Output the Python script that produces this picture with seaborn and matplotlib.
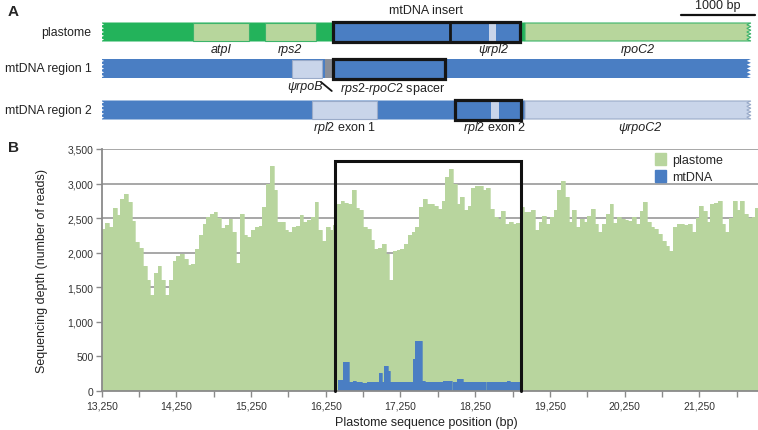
import numpy as np
import pandas as pd
import seaborn as sns
import matplotlib.pyplot as plt
from matplotlib.patches import Rectangle, Polygon, Patch
from matplotlib.ticker import FuncFormatter, MultipleLocator

sns.set_style("white")
plt.rcParams['font.family'] = ['Liberation Sans', 'DejaVu Sans']
plt.rcParams['mathtext.fontset'] = 'custom'
plt.rcParams['mathtext.it'] = 'Liberation Sans:italic'
plt.rcParams['mathtext.rm'] = 'Liberation Sans'

GREEN_FILL = '#b8d59e'
MT_BLUE = '#4a7ec3'
PT_GREEN = '#23b35b'
GENE_GREEN = '#b7d69c'
PALE_BLUE = '#c9d5ea'
SPACER_GREY = '#8a8e97'

# ---- panel B data: read depth in 50 bp windows ----
bin_width = 50
plastome_start = np.arange(13250, 22050, bin_width)
plastome_depth = [
    2340, 2425, 2370, 2640, 2540, 2780, 2850, 2730, 2460, 2150,
    2060, 1800, 1600, 1380, 1700, 1800, 1600, 1380, 1600, 1880,
    1950, 1980, 1910, 1820, 1840, 2050, 2250, 2420, 2510, 2560,
    2590, 2500, 2350, 2400, 2480, 2300, 1850, 2560, 2250, 2230,
    2320, 2370, 2380, 2660, 3000, 3260, 2900, 2450, 2440, 2320,
    2300, 2370, 2380, 2540, 2440, 2470, 2510, 2730, 2320, 2175,
    2370, 2330, 2400, 2700, 2740, 2720, 2700, 2900, 2650, 2610,
    2370, 2340, 2180, 2050, 2060, 2125, 1980, 1600, 2030, 2040,
    2050, 2125, 2250, 2300, 2370, 2660, 2780, 2700, 2700, 2680,
    2630, 2750, 3090, 3210, 2990, 2710, 2800, 2610, 2680, 2940,
    2970, 2960, 2900, 2940, 2630, 2510, 2490, 2600, 2420, 2440,
    2420, 2430, 2660, 2590, 2590, 2610, 2320, 2440, 2535, 2420,
    2510, 2610, 2900, 3040, 2800, 2450, 2610, 2370, 2480, 2440,
    2535, 2630, 2420, 2300, 2420, 2560, 2700, 2430, 2510, 2490,
    2470, 2460, 2510, 2420, 2600, 2730, 2440, 2370, 2340, 2270,
    2175, 2100, 2030, 2370, 2410, 2420, 2400, 2410, 2300, 2500,
    2680, 2600, 2440, 2700, 2720, 2740, 2420, 2300, 2500, 2750,
    2610, 2740, 2560, 2500, 2520, 2650,
]

mt_start = [16410, 16475, 16565, 16620, 16660, 16730, 16800, 16966, 16998, 17029,
            17087, 17109, 17243, 17288, 17421, 17448, 17533, 17578, 17690, 17823,
            17935, 17957, 18001, 18091, 18225, 18390, 18412, 18582, 18672, 18716]
mt_end = 18870
mt_depth = [160, 420, 130, 140, 130, 115, 125, 256, 130, 357,
            290, 125, 132, 120, 460, 725, 145, 130, 125, 140,
            0, 130, 165, 125, 128, 0, 130, 128, 135, 128]

insert_start, insert_end, insert_top = 16373, 18863, 3325

# ---- panel A features (bp) ----
track_y = {'plastome': 33, 'mtDNA region 1': 69.5, 'mtDNA region 2': 111}
track_h = 19
track_left, track_right = 13227, 21941

fig = plt.figure(figsize=(7.58, 4.31), dpi=100)
ax = fig.add_axes([101.7 / 758, 39.3 / 431, 656.3 / 758, 241.7 / 431])
ax_a = fig.add_axes([101.7 / 758, 1 - 135 / 431, 656.3 / 758, 135 / 431])

xmin, xmax = 13250, 22036

# ---------- panel B ----------
# step profiles: repeat the last value so the final window is closed
pt_df = pd.DataFrame({'pos': np.append(plastome_start, plastome_start[-1] + bin_width),
                      'depth': plastome_depth + plastome_depth[-1:]})
mt_df = pd.DataFrame({'pos': mt_start + [mt_end], 'depth': mt_depth + mt_depth[-1:]})

for df, col, z in [(pt_df, GREEN_FILL, 2), (mt_df, MT_BLUE, 3)]:
    ax.fill_between(df['pos'], 0, df['depth'], step='post', color=col, lw=0, zorder=z)
    sns.lineplot(data=df, x='pos', y='depth', drawstyle='steps-post', color=col,
                 lw=0.5, zorder=z, ax=ax)

ax.plot([insert_start, insert_start, insert_end, insert_end],
        [0, insert_top, insert_top, 0], color='#111111', lw=2.2, zorder=5,
        solid_joinstyle='miter', clip_on=False)

ax.set_xlim(xmin, xmax)
ax.set_ylim(0, 3500)
ax.yaxis.set_major_locator(MultipleLocator(500))
ax.yaxis.set_major_formatter(FuncFormatter(lambda v, p: f'{int(v):,}'))
ax.set_xticks(np.arange(13250, 22000, 1000))
ax.set_xticks(np.arange(13750, 22000, 1000), minor=True)
ax.xaxis.set_major_formatter(FuncFormatter(lambda v, p: f'{int(v):,}'))
ax.tick_params(axis='both', which='both', direction='out', length=4, width=1,
               color='#8a8a8a', labelsize=7.5, labelcolor='#333333')
ax.tick_params(axis='x', which='both', bottom=True, pad=3)
ax.tick_params(axis='y', left=True, pad=2)
ax.grid(axis='y', color='#a0a0a0', lw=1.3)
ax.set_axisbelow(True)
for s in ['top', 'right']:
    ax.spines[s].set_visible(False)
for s in ['left', 'bottom']:
    ax.spines[s].set_color('#8a8a8a')
    ax.spines[s].set_linewidth(1.3)
    ax.spines[s].set_zorder(4)
ax.set_ylabel('Sequencing depth (number of reads)', fontsize=9, color='#222222')
ax.set_xlabel('Plastome sequence position (bp)', fontsize=9, color='#222222')
ax.yaxis.set_label_coords(-0.082, 0.5)
ax.xaxis.set_label_coords(0.494, -0.105)

handles = [Patch(color=GREEN_FILL, label='plastome'), Patch(color=MT_BLUE, label='mtDNA')]
ax.legend(handles=handles, loc='upper left', bbox_to_anchor=(0.835, 1.005), frameon=False,
          fontsize=9, handlelength=0.9, handleheight=1.1, handletextpad=0.5,
          labelspacing=0.3, borderaxespad=0)

# ---------- panel A ----------
ax_a.set_xlim(xmin, xmax)
ax_a.set_ylim(135, 0)
ax_a.axis('off')


def jag_poly(x0, x1, yc, h, jag_left=False, jag_right=False, n=5, amp=55):
    top, bot = yc - h / 2, yc + h / 2
    pts = [(x0, top), (x1, top)]
    if jag_right:
        ys = np.linspace(top, bot, 2 * n + 1)
        for i, yv in enumerate(ys):
            pts.append((x1 - (amp if i % 2 else 0), yv))
    else:
        pts.append((x1, bot))
    pts.append((x0, bot))
    if jag_left:
        ys = np.linspace(bot, top, 2 * n + 1)
        for i, yv in enumerate(ys):
            pts.append((x0 + (amp if i % 2 else 0), yv))
    return pts


def box(x0, x1, row, fc, ec='none', lw=0.8, h=None, z=2):
    yc = track_y[row]
    hh = track_h if h is None else h
    ax_a.add_patch(Rectangle((x0, yc - hh / 2), x1 - x0, hh, facecolor=fc,
                             edgecolor=ec, lw=lw, zorder=z))


def outline(x0, x1, row, split=None):
    yc = track_y[row]
    ax_a.add_patch(Rectangle((x0, yc - track_h / 2 - 0.5), x1 - x0, track_h + 1, fill=False,
                             edgecolor='#151515', lw=2.3, zorder=6, joinstyle='miter'))
    if split is not None:
        ax_a.plot([split, split], [yc - track_h / 2, yc + track_h / 2], color='#151515',
                  lw=2, zorder=6)


# plastome row
ax_a.add_patch(Polygon(jag_poly(track_left, 18917, track_y['plastome'], track_h, jag_left=True),
                       facecolor=PT_GREEN, edgecolor='none', zorder=1))
box(14468, 15226, 'plastome', GENE_GREEN, '#3cb46a', h=track_h - 1)
box(15436, 16119, 'plastome', GENE_GREEN, '#3cb46a', h=track_h - 1)
box(16350, 18850, 'plastome', MT_BLUE)
box(18435, 18532, 'plastome', PALE_BLUE, z=3)
ax_a.add_patch(Polygon(jag_poly(18917, track_right, track_y['plastome'], track_h - 1, jag_right=True),
                       facecolor=GENE_GREEN, edgecolor='#3cb46a', lw=0.8, zorder=2))
outline(16350, 18846, 'plastome', split=17909)

# mtDNA region 1
ax_a.add_patch(Polygon(jag_poly(track_left, track_right, track_y['mtDNA region 1'], track_h,
                                jag_left=True, jag_right=True),
                       facecolor=MT_BLUE, edgecolor='none', zorder=1))
box(15793, 16195, 'mtDNA region 1', PALE_BLUE, '#9aabc9', h=track_h - 1)
box(16239, 16346, 'mtDNA region 1', SPACER_GREY)
outline(16346, 17842, 'mtDNA region 1')

# mtDNA region 2
ax_a.add_patch(Polygon(jag_poly(track_left, 18917, track_y['mtDNA region 2'], track_h, jag_left=True),
                       facecolor=MT_BLUE, edgecolor='none', zorder=1))
box(16061, 16931, 'mtDNA region 2', PALE_BLUE, '#9aabc9', h=track_h - 1)
box(18465, 18564, 'mtDNA region 2', PALE_BLUE, z=3)
ax_a.add_patch(Polygon(jag_poly(18917, track_right, track_y['mtDNA region 2'], track_h - 1, jag_right=True),
                       facecolor=PALE_BLUE, edgecolor='#9aabc9', lw=0.8, zorder=2))
outline(17983, 18867, 'mtDNA region 2')

# track names
for name, yc in track_y.items():
    ax_a.annotate(name, xy=(xmin, yc), xytext=(-7.5, 0), textcoords='offset points',
                  ha='right', va='center', fontsize=8.8, color='#222222', annotation_clip=False)

txt = dict(fontsize=9, color='#222222', ha='center', va='center')
ax_a.text(14847, 50, 'atpI', style='italic', **txt)
ax_a.text(15770, 50, 'rps2', style='italic', **txt)
ax_a.text(17590, 11.5, 'mtDNA insert', **txt)
ax_a.text(18489, 50, 'ψrpl2', style='italic', **txt)
ax_a.text(20430, 50, 'rpoC2', style='italic', **txt)
ax_a.text(15972, 87, 'ψrpoB', style='italic', **txt)
ax_a.plot([16185, 16330], [83, 92], color='#151515', lw=1.3)
ax_a.text(16440, 89, r'$\mathit{rps2}$-$\mathit{rpoC2}$ spacer', fontsize=9, color='#222222',
          ha='left', va='center')
ax_a.text(16507, 128.5, r'$\mathit{rpl2}$ exon 1', **txt)
ax_a.text(18515, 128.5, r'$\mathit{rpl2}$ exon 2', **txt)
ax_a.text(20457, 128.5, 'ψrpoC2', style='italic', **txt)

# scale bar
ax_a.plot([21006, 21997], [15.5, 15.5], color='#111111', lw=1.6, clip_on=False)
ax_a.text(21500, 6.5, '1000 bp', **txt)

fig.text(8 / 758, 1 - 12 / 431, 'A', fontsize=11, fontweight='bold', va='center')
fig.text(8 / 758, 1 - 148 / 431, 'B', fontsize=11, fontweight='bold', va='center')

fig.savefig('out.png', dpi=100)
